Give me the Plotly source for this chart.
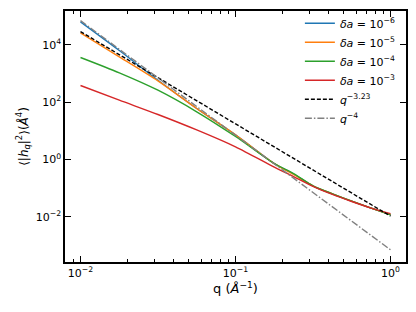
import plotly.graph_objects as go

q = [0.01, 0.0178, 0.0316, 0.0562, 0.1, 0.178, 0.237, 0.316, 0.422, 0.562, 0.75, 1.0]
h_1e6 = [6.3e4, 6.3e3, 5.8e2, 60, 7.2, 0.71, 0.31, 0.12, 0.063, 0.035, 0.020, 0.0118]
h_1e5 = [2.6e4, 3.8e3, 5.5e2, 60, 7.2, 0.71, 0.30, 0.12, 0.063, 0.035, 0.020, 0.0118]
h_1e4 = [3.6e3, 1.05e3, 2.6e2, 46, 6.3, 0.72, 0.32, 0.12, 0.063, 0.035, 0.020, 0.0117]
h_1e3 = [3.8e2, 1.17e2, 37, 10.7, 2.75, 0.54, 0.25, 0.115, 0.060, 0.034, 0.020, 0.0129]
q_fit = [0.01, 1.0]
fit_323 = [2.9e4, 1.05e-2]
fit_4 = [7.0e4, 7.0e-4]

series = [
    ("<i>δa</i> = 10<sup>−6</sup>", h_1e6, "#1f77b4"),
    ("<i>δa</i> = 10<sup>−5</sup>", h_1e5, "#ff7f0e"),
    ("<i>δa</i> = 10<sup>−4</sup>", h_1e4, "#2ca02c"),
    ("<i>δa</i> = 10<sup>−3</sup>", h_1e3, "#d62728"),
]

fig = go.Figure()
for name, ys, col in series:
    fig.add_trace(go.Scatter(x=q, y=ys, mode="lines", name=name,
                             line=dict(color=col, width=1.4, shape="spline", smoothing=0.8)))
fig.add_trace(go.Scatter(x=q_fit, y=fit_323, mode="lines", name="<i>q</i><sup>−3.23</sup>",
                         line=dict(color="black", width=1.4, dash="4px,2px")))
fig.add_trace(go.Scatter(x=q_fit, y=fit_4, mode="lines", name="<i>q</i><sup>−4</sup>",
                         line=dict(color="gray", width=1.4, dash="7px,2px,1.5px,2px")))

axis_common = dict(type="log", showgrid=False, zeroline=False, showline=True,
                   linecolor="black", linewidth=1.5, mirror="allticks", automargin=False,
                   ticks="inside", tickcolor="black", tickwidth=1.2, ticklen=6,
                   tickfont=dict(family="DejaVu Sans", size=11, color="black"))

fig.update_xaxes(**axis_common, range=[-2.1, 0.1],
                 tickvals=[0.01, 0.1, 1],
                 ticktext=["10<sup>−2</sup>", "10<sup>−1</sup>", "10<sup>0</sup>"],
                 minor=dict(ticks="inside", ticklen=3, tickcolor="black", tickwidth=1, dtick="D1", showgrid=False),
                 title=dict(text="q (<i>Å</i><sup>−1</sup>)", font=dict(family="DejaVu Sans", size=13, color="black"), standoff=4))
fig.update_yaxes(**axis_common, range=[-3.58, 5.18],
                 tickvals=[1e-2, 1, 1e2, 1e4],
                 ticktext=["10<sup>−2</sup>", "10<sup>0</sup>", "10<sup>2</sup>", "10<sup>4</sup>"],
                 title=dict(text="⟨|<i>h</i><sub><i>q</i></sub>|<sup>2</sup>⟩(<i>Å</i><sup>4</sup>)",
                            font=dict(family="DejaVu Sans", size=12, color="black"), standoff=5))

# page body adds an 8px offset; compensate so the frame lands where the reference has it
fig.update_layout(width=408, height=304, margin=dict(l=57, r=10, t=2, b=50),
                  paper_bgcolor="white", plot_bgcolor="white",
                  font=dict(family="DejaVu Sans", color="black"),
                  legend=dict(x=0.985, y=1.005, xanchor="right", yanchor="top",
                              bgcolor="rgba(0,0,0,0)", borderwidth=0,
                              font=dict(family="DejaVu Sans", size=11, color="black"),
                              tracegroupgap=0, itemwidth=30))

fig.write_html("out.html")
